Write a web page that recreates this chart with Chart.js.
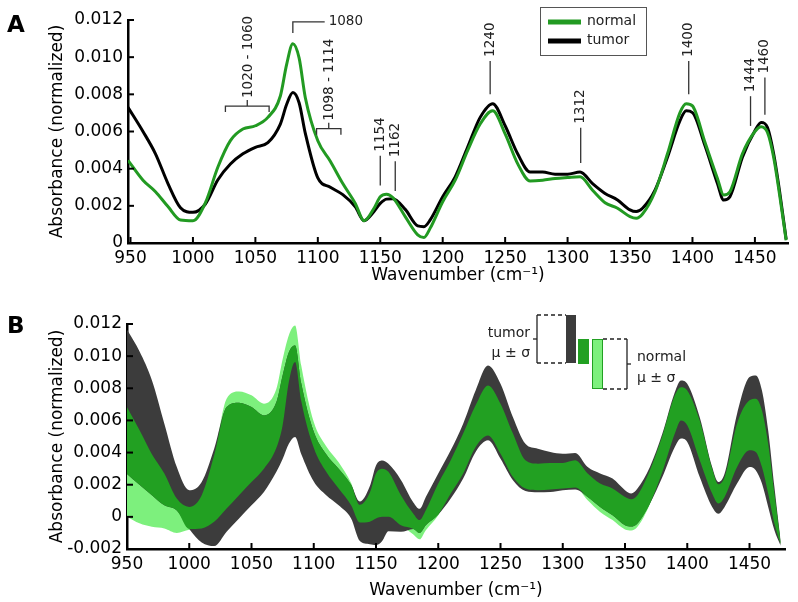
<!DOCTYPE html>
<html>
<head>
<meta charset="utf-8">
<script src="https://cdn.jsdelivr.net/npm/chart.js@4.4.1/dist/chart.umd.min.js"></script>
<style>
    body { margin: 0; background: #fff; }
    #wrap { position: relative; width: 798px; height: 602px; }
    canvas { position: absolute; left: 0; display: block; }
    #chartA { top: 0; }
    #chartB { top: 300px; }
</style>
</head>
<body>
<div id="wrap">
    <canvas id="chartA" width="798" height="300"></canvas>
    <canvas id="chartB" width="798" height="302"></canvas>
</div>
<script>
const wavenumbers = [948, 960, 970, 980, 990, 1000, 1010, 1020, 1030, 1040, 1050, 1060, 1070, 1075, 1080, 1085, 1090,
    1100, 1110, 1120, 1130, 1137, 1145, 1150, 1155, 1160, 1170, 1180, 1185, 1190, 1200, 1210, 1220, 1230, 1240, 1250,
    1260, 1270, 1280, 1290, 1300, 1310, 1320, 1330, 1340, 1350, 1355, 1360, 1370, 1380, 1390, 1395, 1400, 1410, 1420,
    1425, 1430, 1440, 1450, 1455, 1460, 1465, 1470, 1475];

//Panel A: mean spectra
const normalMean = [0.00445, 0.00338, 0.00276, 0.00196, 0.00124, 0.0012, 0.00217, 0.00409, 0.00551, 0.00613, 0.00631,
    0.00676, 0.00791, 0.0096, 0.01072, 0.00996, 0.00782, 0.0055, 0.0044, 0.0032, 0.00213, 0.0012, 0.00187, 0.00249,
    0.00263, 0.00245, 0.00142, 0.00044, 0.0003, 0.0008, 0.00222, 0.00338, 0.00498, 0.0064, 0.00711, 0.00587, 0.00427,
    0.00334, 0.00338, 0.00347, 0.00352, 0.00356, 0.00284, 0.00217, 0.00187, 0.00142, 0.00133, 0.00156, 0.00276, 0.0048,
    0.00702, 0.0075, 0.00738, 0.00542, 0.00347, 0.00258, 0.00276, 0.0048, 0.006, 0.00626, 0.00596, 0.00462, 0.00249,
    0.00015];
const tumorMean = [0.0073, 0.006, 0.0048, 0.0032, 0.0019, 0.00165, 0.0021, 0.0034, 0.00425, 0.0048, 0.00515, 0.0054,
    0.0064, 0.00745, 0.0081, 0.00755, 0.0059, 0.0035, 0.003, 0.0026, 0.00195, 0.0012, 0.0017, 0.00213, 0.00236,
    0.00238, 0.00181, 0.00092, 0.00088, 0.00124, 0.00249, 0.00356, 0.00516, 0.00676, 0.0075, 0.00631, 0.0048, 0.00382,
    0.00382, 0.0037, 0.0037, 0.00382, 0.0032, 0.00267, 0.00231, 0.00178, 0.00169, 0.00187, 0.00284, 0.00462, 0.00658,
    0.00711, 0.00702, 0.00524, 0.0032, 0.00231, 0.00249, 0.00462, 0.00604, 0.00649, 0.00622, 0.0048, 0.00267, 0.0002];

//Panel B: mean +/- sd envelopes
const tumorUpper = [0.0119, 0.0103, 0.0085, 0.0058, 0.0031, 0.00166, 0.00217, 0.00424, 0.00683, 0.0071, 0.00683,
    0.00631, 0.00714, 0.0088, 0.01025, 0.01066, 0.0083, 0.0053, 0.0039, 0.003, 0.002, 0.00095, 0.0019, 0.0032, 0.0035,
    0.0033, 0.0023, 0.0009, 0.0005, 0.00124, 0.0027, 0.00414, 0.0058, 0.00787, 0.00942, 0.00828, 0.0062, 0.00455,
    0.00424, 0.00404, 0.00393, 0.00398, 0.0031, 0.0027, 0.00238, 0.00166, 0.00145, 0.00176, 0.0031, 0.00518, 0.00776,
    0.00849, 0.00828, 0.0062, 0.0031, 0.00217, 0.0027, 0.00642, 0.0087, 0.0088, 0.00787, 0.00538, 0.00186, -0.0015];
const tumorLower = [0.0028, 0.002, 0.00135, 0.00072, 0.0004, -0.00075, -0.0016, -0.00182, -0.00093, -0.0001, 0.00072,
    0.00155, 0.0028, 0.0036, 0.00455, 0.00497, 0.0039, 0.0022, 0.00135, 0.00072, -0.0001, -0.0015, -0.0017, -0.00176,
    -0.0015, -0.0009, -0.00093, -0.00075, -0.001, -0.00052, 0.00015, 0.00114, 0.00238, 0.00404, 0.00476, 0.00362,
    0.00228, 0.00161, 0.00153, 0.00155, 0.00166, 0.0017, 0.00124, 0.00062, 0.0001, -0.00052, -0.0006, -0.00041, 0.00083,
    0.00248, 0.00435, 0.00487, 0.00466, 0.00248, 0.00062, 0.0002, 0.00062, 0.00207, 0.0031, 0.0029, 0.00207, 0.00062,
    -0.00083, -0.0018];
const normalUpper = [0.0071, 0.0054, 0.0039, 0.0027, 0.00114, 0.00062, 0.00135, 0.00383, 0.00735, 0.0078, 0.00756,
    0.00704, 0.00797, 0.0098, 0.0113, 0.0119, 0.0094, 0.0059, 0.0044, 0.0034, 0.0021, 0.00075, 0.0015, 0.0027, 0.003,
    0.0028, 0.00135, 0.0002, -0.0002, 0.00041, 0.00207, 0.00352, 0.00518, 0.00694, 0.00818, 0.00704, 0.00518, 0.00352,
    0.00331, 0.00335, 0.00335, 0.00352, 0.0027, 0.00207, 0.00176, 0.00124, 0.0011, 0.00135, 0.0029, 0.00505, 0.00756,
    0.00807, 0.00787, 0.006, 0.003, 0.00203, 0.00248, 0.0058, 0.00725, 0.00735, 0.00662, 0.00455, 0.00145, -0.0016];
const normalLower = [0.0001, -0.0004, -0.00062, -0.00072, -0.001, -0.0008, -0.00072, -0.00031, 0.00052, 0.00135,
    0.00217, 0.003, 0.0043, 0.0057, 0.0084, 0.00963, 0.0072, 0.0043, 0.0028, 0.00176, 0.00072, -0.00035, -0.0003,
    -0.0001, 0, 0, -0.00052, -0.0011, -0.0014, -0.00083, 0.0001, 0.00145, 0.0027, 0.00435, 0.00507, 0.00393, 0.00248,
    0.00176, 0.00166, 0.0017, 0.00176, 0.00183, 0.00104, 0.00031, -0.0002, -0.00079, -0.00085, -0.00062, 0.00079,
    0.0028, 0.00518, 0.006, 0.0057, 0.00352, 0.00145, 0.00083, 0.00124, 0.0031, 0.00414, 0.00404, 0.0031, 0.00145,
    -0.00041, -0.0017];

//Tick values
const xTicks = [950, 1000, 1050, 1100, 1150, 1200, 1250, 1300, 1350, 1400, 1450];
const yTicksA = [0, 0.002, 0.004, 0.006, 0.008, 0.010, 0.012];
const yTicksB = [-0.002, 0, 0.002, 0.004, 0.006, 0.008, 0.010, 0.012];

//Colours
const NORMAL_LINE = '#229a22';
const TUMOR_LINE = '#000000';
const TUMOR_BAND = '#3c3c3c';
const NORMAL_BAND = '#7df07d';
const OVERLAP_BAND = '#22a022';
const FONT = "'DejaVu Sans', sans-serif";

Chart.defaults.font.family = FONT;
Chart.defaults.color = '#000';

//Overlap of the two envelopes (collapses to nothing where they do not meet)
const overlapLower = wavenumbers.map((w, i) => Math.max(tumorLower[i], normalLower[i]));
const overlapUpper = wavenumbers.map((w, i) => Math.max(overlapLower[i], Math.min(tumorUpper[i], normalUpper[i])));

function toPoints(values) {
    return wavenumbers.map((w, i) => ({x: w, y: values[i]}));
}

function xScale(min, max, height, titlePad) {
    return {
        type: 'linear', position: 'bottom', min: min, max: max,
        afterBuildTicks: (axis) => { axis.ticks = xTicks.map(v => ({value: v})); },
        afterFit: (axis) => { axis.height = height; },
        grid: {display: false, drawTicks: false},
        border: {display: true, color: '#000', width: 2.5},
        ticks: {font: {size: 17}, color: '#000', padding: 5, maxRotation: 0, callback: (v) => String(v)},
        title: {display: true, text: 'Wavenumber (cm\u207B\u00B9)', font: {size: 17}, color: '#000',
            padding: {top: 0, bottom: titlePad}}
    };
}

function yScale(min, max, ticks, width) {
    return {
        type: 'linear', min: min, max: max,
        afterBuildTicks: (axis) => { axis.ticks = ticks.map(v => ({value: v})); },
        afterFit: (axis) => { axis.width = width; },
        grid: {display: false, drawTicks: false},
        border: {display: true, color: '#000', width: 2.5},
        ticks: {font: {size: 17}, color: '#000', padding: 5,
            callback: (v) => Math.abs(v) < 1e-9 ? '0' : v.toFixed(3)},
        title: {display: true, text: 'Absorbance (normalized)', font: {size: 17}, color: '#000',
            padding: {top: 47, bottom: 0}}
    };
}

function strokeLine(ctx, x1, y1, x2, y2) {
    ctx.beginPath();
    ctx.moveTo(x1, y1);
    ctx.lineTo(x2, y2);
    ctx.stroke();
}

//Tick marks pointing into the plot
const inwardTicks = {
    id: 'inwardTicks',
    afterDraw(chart) {
        const {ctx, chartArea, scales: {x, y}} = chart;
        ctx.save();
        ctx.strokeStyle = '#000';
        ctx.lineWidth = 2;
        x.ticks.forEach(t => {
            const px = x.getPixelForValue(t.value);
            strokeLine(ctx, px, chartArea.bottom, px, chartArea.bottom - 6);
        });
        y.ticks.forEach(t => {
            const py = y.getPixelForValue(t.value);
            strokeLine(ctx, chartArea.left, py, chartArea.left + 6, py);
        });
        ctx.restore();
    }
};

//Keep the bands inside the plot area
const clipPlot = {
    id: 'clipPlot',
    beforeDatasetsDraw(chart) {
        const {ctx, chartArea} = chart;
        ctx.save();
        ctx.beginPath();
        ctx.rect(chartArea.left, chartArea.top, chartArea.right - chartArea.left, chartArea.bottom - chartArea.top);
        ctx.clip();
    },
    afterDatasetsDraw(chart) {
        chart.ctx.restore();
    }
};

//Panel letter in the top left corner
const panelLetter = {
    id: 'panelLetter',
    afterDraw(chart, args, opts) {
        const ctx = chart.ctx;
        ctx.save();
        ctx.font = 'bold 23px ' + FONT;
        ctx.fillStyle = '#000';
        ctx.textAlign = 'left';
        ctx.textBaseline = 'alphabetic';
        ctx.fillText(opts.text, 7, opts.y);
        ctx.restore();
    }
};

//Peak assignments of panel A
const singlePeaks = [
    {text: '1154', at: 1150, from: 0.0031, to: 0.0047},
    {text: '1162', at: 1162, from: 0.0028, to: 0.0044},
    {text: '1240', at: 1238, from: 0.0080, to: 0.0098},
    {text: '1312', at: 1310.5, from: 0.0043, to: 0.0062},
    {text: '1400', at: 1397, from: 0.0080, to: 0.0098},
    {text: '1444', at: 1446.5, from: 0.0063, to: 0.0079},
    {text: '1460', at: 1458, from: 0.0069, to: 0.0089}
];
const rangePeaks = [
    {text: '1020 - 1060', from: 1026, to: 1061, at: 0.00737},
    {text: '1098 - 1114', from: 1099, to: 1118.5, at: 0.00615}
];
const elbowPeak = {text: '1080', at: 1080, from: 0.0113, to: 0.0119, end: 1105.5};

function verticalText(ctx, text, px, bottom) {
    ctx.save();
    ctx.translate(px, bottom);
    ctx.rotate(-Math.PI / 2);
    ctx.textAlign = 'left';
    ctx.textBaseline = 'middle';
    ctx.fillText(text, 0, 0);
    ctx.restore();
}

const peakLabels = {
    id: 'peakLabels',
    afterDatasetsDraw(chart) {
        const {ctx, scales: {x, y}} = chart;
        ctx.save();
        ctx.strokeStyle = '#333';
        ctx.fillStyle = '#222';
        ctx.lineWidth = 1.3;
        ctx.font = '13.5px ' + FONT;

        singlePeaks.forEach(p => {
            const px = x.getPixelForValue(p.at);
            const top = y.getPixelForValue(p.to);
            strokeLine(ctx, px, y.getPixelForValue(p.from), px, top);
            verticalText(ctx, p.text, px, top - 4);
        });

        rangePeaks.forEach(p => {
            const x1 = x.getPixelForValue(p.from);
            const x2 = x.getPixelForValue(p.to);
            const mid = (x1 + x2) / 2;
            const py = y.getPixelForValue(p.at);
            ctx.beginPath();
            ctx.moveTo(x1, py + 6);
            ctx.lineTo(x1, py);
            ctx.lineTo(x2, py);
            ctx.lineTo(x2, py + 6);
            ctx.moveTo(mid, py);
            ctx.lineTo(mid, py - 6);
            ctx.stroke();
            verticalText(ctx, p.text, mid + 1, py - 8);
        });

        const ex = x.getPixelForValue(elbowPeak.at);
        const ey = y.getPixelForValue(elbowPeak.to);
        const endX = x.getPixelForValue(elbowPeak.end);
        ctx.beginPath();
        ctx.moveTo(ex, y.getPixelForValue(elbowPeak.from));
        ctx.lineTo(ex, ey);
        ctx.lineTo(endX, ey);
        ctx.stroke();
        ctx.textAlign = 'left';
        ctx.textBaseline = 'middle';
        ctx.fillText(elbowPeak.text, endX + 4, ey);
        ctx.restore();
    }
};

//Boxed legend of panel A
const lineLegend = {
    id: 'lineLegend',
    afterDraw(chart) {
        const ctx = chart.ctx;
        ctx.save();
        ctx.strokeStyle = '#555';
        ctx.lineWidth = 1;
        ctx.strokeRect(540.5, 7.5, 106, 48);
        ctx.font = '14px ' + FONT;
        ctx.fillStyle = '#222';
        ctx.textAlign = 'left';
        ctx.textBaseline = 'middle';
        chart.data.datasets.forEach((ds, i) => {
            const ly = 22 + i * 19;
            ctx.strokeStyle = ds.borderColor;
            ctx.lineWidth = 5;
            strokeLine(ctx, 548, ly, 581, ly);
            ctx.fillText(ds.label, 587, ly - 1);
        });
        ctx.restore();
    }
};

//Bar key of panel B
const bandLegend = {
    id: 'bandLegend',
    afterDraw(chart) {
        const ctx = chart.ctx;
        ctx.save();
        ctx.fillStyle = TUMOR_BAND;
        ctx.fillRect(566, 15, 10, 48);
        ctx.fillStyle = OVERLAP_BAND;
        ctx.fillRect(578, 39, 11, 25);
        ctx.fillStyle = NORMAL_BAND;
        ctx.fillRect(592, 39, 11, 50);
        ctx.strokeStyle = OVERLAP_BAND;
        ctx.lineWidth = 1;
        ctx.strokeRect(592.5, 39.5, 10, 49);

        ctx.strokeStyle = '#222';
        ctx.lineWidth = 1.3;
        ctx.setLineDash([4, 3]);
        strokeLine(ctx, 537, 15, 566, 15);
        strokeLine(ctx, 537, 63, 566, 63);
        strokeLine(ctx, 603, 39, 627, 39);
        strokeLine(ctx, 603, 89, 627, 89);
        ctx.setLineDash([]);
        strokeLine(ctx, 537, 15, 537, 63);
        strokeLine(ctx, 533, 39, 537, 39);
        strokeLine(ctx, 627, 39, 627, 89);
        strokeLine(ctx, 627, 64, 631, 64);

        ctx.font = '14px ' + FONT;
        ctx.fillStyle = '#222';
        ctx.textBaseline = 'middle';
        ctx.textAlign = 'right';
        ctx.fillText('tumor', 530, 33);
        ctx.fillText('\u03BC \u00B1 \u03C3', 530, 53);
        ctx.textAlign = 'left';
        ctx.fillText('normal', 637, 57);
        ctx.fillText('\u03BC \u00B1 \u03C3', 637, 78);
        ctx.restore();
    }
};

const baseOptions = {
    responsive: false,
    animation: false,
    devicePixelRatio: 1,
    elements: {point: {radius: 0}, line: {cubicInterpolationMode: 'monotone'}},
    events: []
};

//Panel A: mean spectra
new Chart(document.getElementById('chartA'), {
    type: 'line',
    data: {
        datasets: [
            {label: 'normal', data: toPoints(normalMean), borderColor: NORMAL_LINE, borderWidth: 3, fill: false},
            {label: 'tumor', data: toPoints(tumorMean), borderColor: TUMOR_LINE, borderWidth: 3, fill: false}
        ]
    },
    options: Object.assign({}, baseOptions, {
        layout: {padding: {top: 20, right: 10, bottom: 0, left: 0}},
        scales: {x: xScale(948, 1476.5, 57, 14), y: yScale(0, 0.012, yTicksA, 128)},
        plugins: {legend: {display: false}, tooltip: {enabled: false}, panelLetter: {text: 'A', y: 32}}
    }),
    plugins: [inwardTicks, panelLetter, peakLabels, lineLegend]
});

//Panel B: envelopes, overlap drawn last so it sits on top
function band(upper, lower, colour) {
    return [
        {data: toPoints(upper), fill: '+1', backgroundColor: colour, borderColor: 'transparent', borderWidth: 0},
        {data: toPoints(lower), fill: false, borderColor: 'transparent', borderWidth: 0}
    ];
}

new Chart(document.getElementById('chartB'), {
    type: 'line',
    data: {
        datasets: [
            ...band(overlapUpper, overlapLower, OVERLAP_BAND),
            ...band(tumorUpper, tumorLower, TUMOR_BAND),
            ...band(normalUpper, normalLower, NORMAL_BAND)
        ]
    },
    options: Object.assign({}, baseOptions, {
        layout: {padding: {top: 24, right: 13, bottom: 0, left: 0}},
        scales: {x: xScale(950, 1478.5, 53, 1), y: yScale(-0.002, 0.012, yTicksB, 127)},
        plugins: {legend: {display: false}, tooltip: {enabled: false}, panelLetter: {text: 'B', y: 33}}
    }),
    plugins: [clipPlot, inwardTicks, panelLetter, bandLegend]
});
</script>
</body>
</html>
